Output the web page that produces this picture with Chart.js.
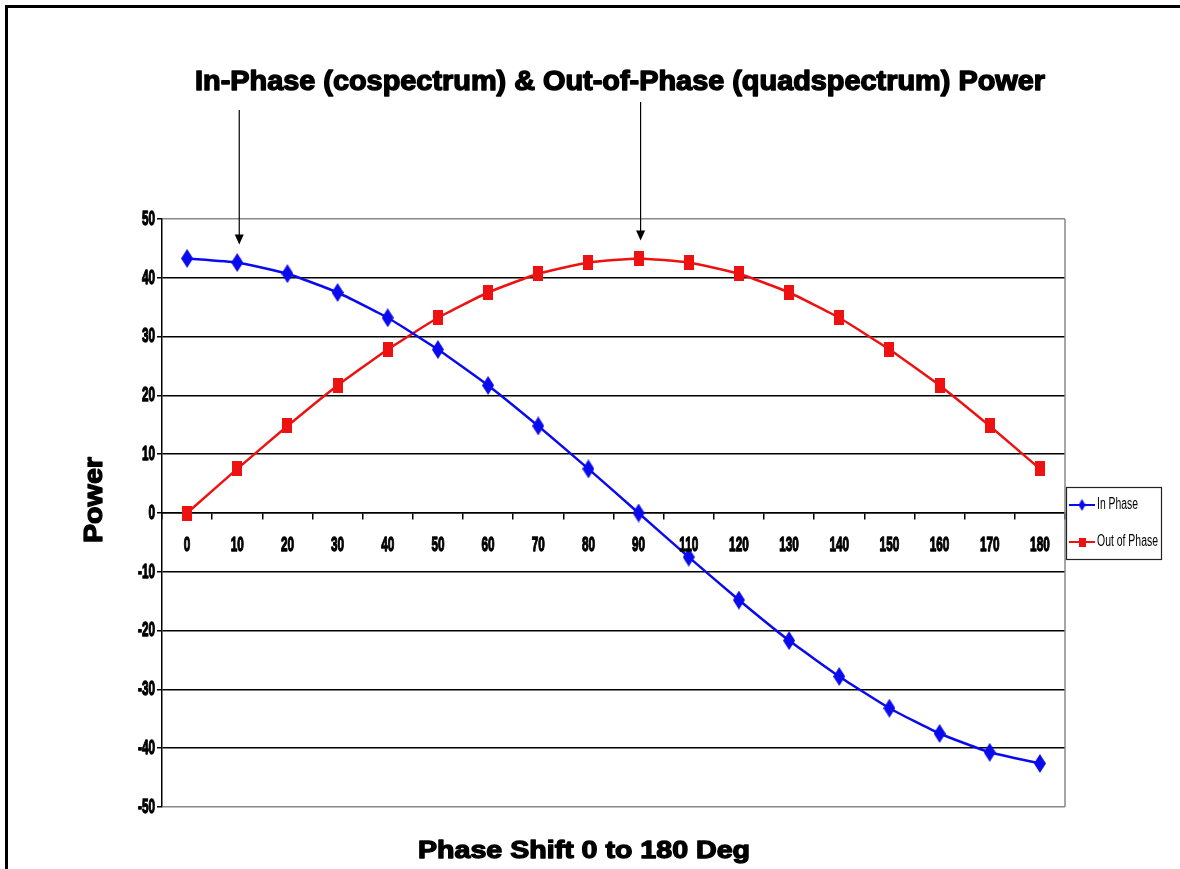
<!DOCTYPE html>
<html>
<head>
<meta charset="utf-8">
<script src="https://cdn.jsdelivr.net/npm/chart.js@4.4.1/dist/chart.umd.min.js"></script>
<style>
html,body{margin:0;padding:0;background:#fff;}
#wrap{position:relative;width:1180px;height:869px;}
</style>
</head>
<body>
<div id="wrap"><canvas id="c" width="1180" height="869"></canvas></div>
<script>
// ---- data ----
const categories = ['0','10','20','30','40','50','60','70','80','90','110','120','130','140','150','160','170','180'];
const inPhase = [43.3, 42.6, 40.7, 37.5, 33.2, 27.8, 21.7, 14.8, 7.5, 0, -7.5, -14.8, -21.7, -27.8, -33.2, -37.5, -40.7, -42.6];
const outOfPhase = [0, 7.5, 14.8, 21.7, 27.8, 33.2, 37.5, 40.7, 42.6, 43.3, 42.6, 40.7, 37.5, 33.2, 27.8, 21.7, 14.8, 7.5];
const seriesNames = ['In Phase', 'Out of Phase'];
const yTicks = { min: -50, max: 50, step: 10 };
const chartTitle = 'In-Phase (cospectrum) & Out-of-Phase (quadspectrum) Power';
const xTitle = 'Phase Shift 0 to 180 Deg';
const yTitle = 'Power';
// arrows point at: [seriesIndex, categoryIndex]
const arrowTargets = [[0, 1], [1, 9]];

const BLUE = '#0a0aee';
const RED = '#ee1111';
const SANS = "'Liberation Sans',Arial,sans-serif";

function makeMarker(shape, w, h, color) {
  const c = document.createElement('canvas');
  c.width = w; c.height = h;
  const g = c.getContext('2d');
  g.fillStyle = color;
  if (shape === 'diamond') {
    g.beginPath();
    g.moveTo(w/2, 0); g.lineTo(w, h/2); g.lineTo(w/2, h); g.lineTo(0, h/2); g.closePath(); g.fill();
  } else {
    g.fillRect(0, 0, w, h);
  }
  return c;
}
const blueMarker = makeMarker('diamond', 12, 19, BLUE);
const redMarker = makeMarker('rect', 10, 15, RED);
const blueMarkerSmall = makeMarker('diamond', 7, 12, BLUE);
const redMarkerSmall = makeMarker('rect', 7, 9, RED);

function heavyText(ctx, text, x, cy, font, opts) {
  ctx.save();
  ctx.font = font;
  const m = ctx.measureText(text).width;
  const sx = opts.width ? opts.width / m : (opts.sx || 1);
  ctx.translate(x, cy);
  if (opts.rot) ctx.rotate(opts.rot);
  ctx.scale(sx, 1);
  ctx.textAlign = opts.align || 'center';
  ctx.textBaseline = 'middle';
  ctx.fillStyle = '#000';
  ctx.fillText(text, 0, 0);
  if (opts.stroke) {
    ctx.strokeStyle = '#000';
    ctx.lineWidth = opts.stroke;
    ctx.lineJoin = 'round';
    ctx.strokeText(text, 0, 0);
  }
  ctx.restore();
}

const decor = {
  id: 'decor',
  beforeDatasetsDraw(chart) {
    const { ctx, chartArea: a } = chart;
    ctx.save();
    ctx.strokeStyle = '#888';
    ctx.lineWidth = 1.5;
    ctx.beginPath();
    ctx.moveTo(a.right, a.top); ctx.lineTo(a.right, a.bottom);
    ctx.stroke();
    ctx.restore();
  },
  afterDraw(chart) {
    const { ctx, chartArea: a } = chart;
    const xs = chart.scales.x, ys = chart.scales.y;
    ctx.save();
    ctx.fillStyle = '#000';
    ctx.fillRect(5, 5, chart.width - 5, 3);
    ctx.fillRect(5, 5, 3, chart.height - 5);
    ctx.restore();
    const zeroY = ys.getPixelForValue(0);
    xs.ticks.forEach((t, i) => {
      heavyText(ctx, xs.getLabelForValue(t.value), xs.getPixelForTick(i), zeroY + 32, 'bold 21px ' + SANS, { sx: 0.56, stroke: 1.3 });
    });
    ys.ticks.forEach((t) => {
      heavyText(ctx, String(t.value), a.left - 7, ys.getPixelForValue(t.value), 'bold 21px ' + SANS, { sx: 0.56, stroke: 1.3, align: 'right' });
    });
    heavyText(ctx, chartTitle, 620, 83, 'bold 27px ' + SANS, { width: 850, stroke: 1.4 });
    heavyText(ctx, xTitle, 584, 851, 'bold 24px ' + SANS, { width: 332, stroke: 1.3 });
    heavyText(ctx, yTitle, 95, 500, 'bold 26px ' + SANS, { width: 86, stroke: 1.3, rot: -Math.PI / 2 });
    const starts = [110, 102];
    arrowTargets.forEach(([s, i], k) => {
      const ds = chart.data.datasets[s].data;
      const px = xs.getPixelForValue(i) + 2;
      const tip = ys.getPixelForValue(ds[i]) - 18;
      ctx.save();
      ctx.strokeStyle = '#000'; ctx.fillStyle = '#000'; ctx.lineWidth = 1.2;
      ctx.beginPath(); ctx.moveTo(px, starts[k]); ctx.lineTo(px, tip - 6); ctx.stroke();
      ctx.beginPath(); ctx.moveTo(px - 4.5, tip - 10); ctx.lineTo(px + 4.5, tip - 10); ctx.lineTo(px, tip); ctx.closePath(); ctx.fill();
      ctx.restore();
    });
    const lx = a.right + 1, ly = 487, lw = 95, lh = 72;
    ctx.save();
    ctx.fillStyle = '#fff';
    ctx.fillRect(lx, ly, lw, lh);
    ctx.strokeStyle = '#222'; ctx.lineWidth = 1.2;
    ctx.strokeRect(lx + 0.5, ly + 0.5, lw, lh);
    const rows = [[BLUE, blueMarkerSmall, 505, 41], [RED, redMarkerSmall, 542, 61]];
    rows.forEach(([col, mk, y, tw], r) => {
      ctx.strokeStyle = col; ctx.lineWidth = 2;
      ctx.beginPath(); ctx.moveTo(lx + 3, y); ctx.lineTo(lx + 29, y); ctx.stroke();
      ctx.drawImage(mk, lx + 16 - mk.width / 2, y - mk.height / 2);
      heavyText(ctx, seriesNames[r], lx + 31, y, '16px ' + SANS, { width: tw, align: 'left' });
    });
    ctx.restore();
  }
};

new Chart(document.getElementById('c'), {
  type: 'line',
  data: {
    labels: categories,
    datasets: [
      { label: seriesNames[0], data: inPhase, borderColor: BLUE, backgroundColor: BLUE, borderWidth: 2.5,
        pointStyle: blueMarker, pointRadius: 8, tension: 0.15 },
      { label: seriesNames[1], data: outOfPhase, borderColor: RED, backgroundColor: RED, borderWidth: 2.5,
        pointStyle: redMarker, pointRadius: 8, tension: 0.15 }
    ]
  },
  options: {
    responsive: false,
    animation: false,
    layout: { padding: { left: 0, right: 115, top: 219, bottom: 62 } },
    plugins: { legend: { display: false }, title: { display: false }, tooltip: { enabled: false } },
    scales: {
      x: {
        type: 'category',
        offset: true,
        position: { y: 0 },
        grid: { offset: true, drawOnChartArea: false, drawTicks: true, tickLength: 6, color: '#000', lineWidth: 1.5 },
        border: { display: true, color: '#000', width: 1.5 },
        ticks: { display: false, maxRotation: 0, autoSkip: false }
      },
      y: {
        min: yTicks.min, max: yTicks.max,
        afterFit(scale) { scale.width = 162; },
        grid: {
          color: (c) => (c.tick && Math.abs(c.tick.value) === 50) ? '#888' : '#000',
          lineWidth: 1.5, tickLength: 5, tickColor: '#000'
        },
        border: { display: true, color: '#000', width: 1.5 },
        ticks: { display: false, stepSize: yTicks.step }
      }
    }
  },
  plugins: [decor]
});
</script>
</body>
</html>
